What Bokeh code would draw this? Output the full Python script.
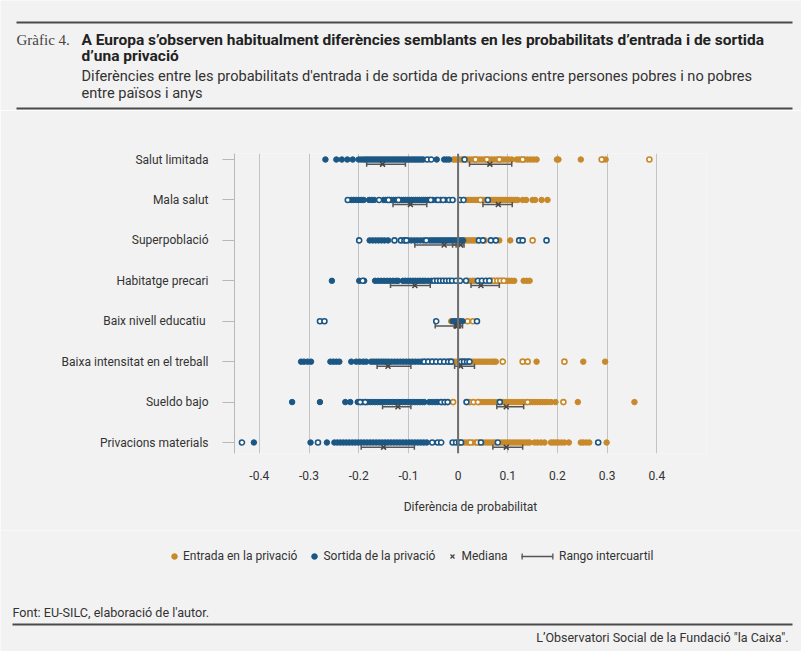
from bokeh.plotting import figure
from bokeh.layouts import column
from bokeh.models import (Range1d, FixedTicker, Label, BoxAnnotation, Span,
                          Legend, LegendItem, ColumnDataSource)
from bokeh.embed import file_html
from bokeh.resources import INLINE

# ---------------- data ----------------
categories = ["Salut limitada", "Mala salut", "Superpoblació", "Habitatge precari",
              "Baix nivell educatiu ", "Baixa intensitat en el treball",
              "Sueldo bajo", "Privacions materials"]

x_ticks = [-0.4, -0.3, -0.2, -0.1, 0.0, 0.1, 0.2, 0.3, 0.4]
x_tick_labels = ["-0.4", "-0.3", "-0.2", "-0.1", "0", "0.1", "0.2", "0.3", "0.4"]

# Entrada (orange) significant = filled, ns = hollow ; Sortida (blue) likewise
salut_limitada_entrada = [-0.010, -0.006, -0.002, 0.003, 0.008, 0.018, 0.023, 0.028, 0.033, 0.038,
                          0.043, 0.048, 0.053, 0.058, 0.063, 0.068, 0.073, 0.078, 0.083, 0.087,
                          0.092, 0.097, 0.102, 0.108, 0.118, 0.123, 0.128, 0.134, 0.140, 0.146,
                          0.152, 0.158, 0.199, 0.202, 0.247, 0.291, 0.297]
salut_limitada_entrada_ns = [0.013, 0.035, 0.058, 0.083, 0.130, 0.289, 0.385]
salut_limitada_sortida = [-0.267, -0.245, -0.234, -0.223, -0.212, -0.200, -0.195, -0.190, -0.186,
                          -0.182, -0.178, -0.174, -0.170, -0.166, -0.162, -0.158, -0.154, -0.150,
                          -0.146, -0.142, -0.138, -0.134, -0.130, -0.126, -0.122, -0.118, -0.114,
                          -0.110, -0.106, -0.102, -0.098, -0.094, -0.090, -0.086, -0.082, -0.078,
                          -0.074, -0.070, -0.043, -0.028, -0.023, -0.018]
salut_limitada_sortida_ns = [-0.062, -0.054, 0.013]

mala_salut_entrada = [0.012, 0.016, 0.020, 0.024, 0.028, 0.032, 0.036, 0.040, 0.044, 0.048,
                      0.052, 0.056, 0.064, 0.068, 0.072, 0.076, 0.080, 0.084, 0.088, 0.092,
                      0.096, 0.100, 0.104, 0.108, 0.112, 0.116, 0.120, 0.130, 0.137, 0.150,
                      0.155, 0.168, 0.180]
mala_salut_entrada_ns = [0.045]
mala_salut_sortida = [-0.215, -0.210, -0.205, -0.200, -0.195, -0.190, -0.179, -0.174, -0.169,
                      -0.150, -0.146, -0.142, -0.138, -0.134, -0.130, -0.126, -0.122, -0.118,
                      -0.114, -0.110, -0.106, -0.102, -0.098, -0.094, -0.090, -0.086, -0.082,
                      -0.078, -0.074, -0.070, -0.066, -0.062, -0.058, -0.051, -0.044, -0.035,
                      -0.026]
mala_salut_sortida_ns = [-0.222, -0.159, -0.140, -0.120, -0.055, -0.040, -0.030, -0.018, -0.011,
                         0.004, 0.011, 0.060]

superpoblacio_entrada = [0.012, 0.016, 0.020, 0.024, 0.028, 0.032, 0.036, 0.083, 0.105]
superpoblacio_entrada_ns = [0.053, 0.150]
superpoblacio_sortida = [-0.178, -0.172, -0.166, -0.160, -0.154, -0.148, -0.141, -0.100, -0.094,
                         -0.088, -0.082, -0.076, -0.070, -0.058, -0.054, -0.050, -0.046, -0.042,
                         -0.038, -0.034, -0.030, -0.026, -0.022, -0.018, -0.014, -0.010, -0.006,
                         -0.002, 0.002, 0.006, 0.010]
superpoblacio_sortida_ns = [-0.199, -0.128, -0.115, -0.108, -0.104, -0.064, 0.042, 0.050, 0.066,
                            0.076, 0.123, 0.130, 0.178]

habitatge_entrada = [0.019, 0.024, 0.029, 0.033, 0.068, 0.073, 0.078, 0.083, 0.088, 0.093,
                     0.098, 0.103, 0.108, 0.113, 0.132, 0.138, 0.144]
habitatge_entrada_ns = [0.066, 0.072, 0.079, 0.085, 0.092]
habitatge_sortida = [-0.254, -0.199, -0.189, -0.167, -0.161, -0.155, -0.149, -0.143, -0.137,
                     -0.131, -0.125, -0.121, -0.111, -0.106, -0.101, -0.096, -0.091, -0.086,
                     -0.081, -0.076, -0.071, -0.066, -0.060, -0.054]
habitatge_sortida_ns = [-0.192, -0.048, -0.042, -0.036, -0.030, -0.024, -0.018, -0.012, -0.004,
                        0.004, 0.016, 0.040, 0.048, 0.056, 0.063]

educatiu_entrada = [-0.014]
educatiu_entrada_ns = [0.019, 0.030]
educatiu_sortida = [-0.011, -0.006, -0.001, 0.004, 0.009]
educatiu_sortida_ns = [-0.278, -0.269, -0.044, 0.038]

intensitat_entrada = [-0.011, -0.006, -0.001, 0.004, 0.009, 0.014, 0.028, 0.033, 0.038, 0.043,
                      0.048, 0.053, 0.058, 0.063, 0.068, 0.072, 0.076, 0.158, 0.252, 0.296]
intensitat_entrada_ns = [0.090, 0.130, 0.140, 0.214]
intensitat_sortida = [-0.316, -0.310, -0.303, -0.296, -0.257, -0.251, -0.245, -0.239, -0.215,
                      -0.205, -0.198, -0.191, -0.185, -0.175, -0.170, -0.165, -0.160, -0.155,
                      -0.150, -0.145, -0.140, -0.134, -0.128, -0.122, -0.116, -0.110, -0.104,
                      -0.098, -0.092, -0.086, -0.080, -0.074]
intensitat_sortida_ns = [-0.068, -0.060, -0.052, -0.044, -0.036, -0.028, -0.020, -0.014, 0.006,
                         0.012, 0.018, 0.023]

sueldo_entrada = [0.043, 0.048, 0.053, 0.058, 0.063, 0.068, 0.073, 0.080, 0.087, 0.092, 0.097,
                  0.102, 0.107, 0.112, 0.117, 0.122, 0.127, 0.132, 0.137, 0.145, 0.150, 0.155,
                  0.160, 0.165, 0.170, 0.175, 0.180, 0.187, 0.196, 0.241, 0.355]
sueldo_entrada_ns = [-0.010, 0.023, 0.031, 0.040, 0.140, 0.212]
sueldo_sortida = [-0.334, -0.278, -0.227, -0.217, -0.202, -0.192, -0.182, -0.177, -0.172,
                  -0.167, -0.162, -0.157, -0.152, -0.147, -0.142, -0.137, -0.132, -0.127,
                  -0.122, -0.117, -0.112, -0.107, -0.102, -0.097, -0.092, -0.087, -0.082,
                  -0.077, -0.072, -0.068, -0.058, -0.052, -0.046, -0.041]
sueldo_sortida_ns = [-0.197, -0.187, -0.034, -0.027, -0.021, 0.017, 0.084]

privacions_entrada = [0.008, 0.013, 0.018, 0.023, 0.030, 0.036, 0.043, 0.050, 0.055, 0.060,
                      0.065, 0.070, 0.075, 0.085, 0.090, 0.095, 0.100, 0.105, 0.110, 0.115,
                      0.120, 0.125, 0.130, 0.135, 0.140, 0.144, 0.154, 0.160, 0.167, 0.174,
                      0.187, 0.192, 0.197, 0.202, 0.208, 0.214, 0.223, 0.247, 0.252, 0.258,
                      0.264, 0.299]
privacions_entrada_ns = [0.025, 0.039]
privacions_sortida = [-0.411, -0.297, -0.264, -0.249, -0.243, -0.237, -0.231, -0.225, -0.219,
                      -0.213, -0.207, -0.201, -0.195, -0.189, -0.183, -0.177, -0.171, -0.165,
                      -0.159, -0.153, -0.147, -0.141, -0.135, -0.129, -0.123, -0.117, -0.111,
                      -0.105, -0.099, -0.093, -0.087, -0.081, -0.075, -0.069, -0.063]
privacions_sortida_ns = [-0.435, -0.282, -0.052, -0.041, -0.034, -0.011, -0.004, 0.002, 0.006,
                         0.046, 0.080, 0.282]

# medians and interquartile ranges (one value per category, top to bottom)
entrada_mediana = [0.064, 0.081, 0.005, 0.046, -0.001, 0.005, 0.097, 0.097]
entrada_q1 = [0.023, 0.050, -0.011, 0.026, -0.007, -0.007, 0.078, 0.070]
entrada_q3 = [0.108, 0.109, 0.012, 0.083, 0.009, 0.033, 0.132, 0.130]
sortida_mediana = [-0.152, -0.096, -0.028, -0.087, -0.004, -0.141, -0.121, -0.150]
sortida_q1 = [-0.184, -0.131, -0.087, -0.136, -0.046, -0.163, -0.152, -0.195]
sortida_q3 = [-0.106, -0.063, -0.004, -0.056, 0.005, -0.095, -0.095, -0.088]

entrada_rows = [salut_limitada_entrada, mala_salut_entrada, superpoblacio_entrada, habitatge_entrada,
                educatiu_entrada, intensitat_entrada, sueldo_entrada, privacions_entrada]
entrada_ns_rows = [salut_limitada_entrada_ns, mala_salut_entrada_ns, superpoblacio_entrada_ns,
                   habitatge_entrada_ns, educatiu_entrada_ns, intensitat_entrada_ns,
                   sueldo_entrada_ns, privacions_entrada_ns]
sortida_rows = [salut_limitada_sortida, mala_salut_sortida, superpoblacio_sortida, habitatge_sortida,
                educatiu_sortida, intensitat_sortida, sueldo_sortida, privacions_sortida]
sortida_ns_rows = [salut_limitada_sortida_ns, mala_salut_sortida_ns, superpoblacio_sortida_ns,
                   habitatge_sortida_ns, educatiu_sortida_ns, intensitat_sortida_ns,
                   sueldo_sortida_ns, privacions_sortida_ns]

ORANGE = "#c8892b"
BLUE = "#1b5784"
BG = "#f2f2f2"
TXT = "#333333"
RULE = "#4a4a4a"
FONT = "Roboto"
W = 801
NAN = float("nan")


def flatten(rows):
    xs, ys = [], []
    for i, vals in enumerate(rows):
        xs.extend(vals)
        ys.extend([i] * len(vals))
    return ColumnDataSource(dict(x=xs, y=ys))


def blank_fig(height, y_top, y_bottom):
    f = figure(width=W, height=height, output_backend="svg", toolbar_location=None,
               x_range=Range1d(0, W), y_range=Range1d(y_bottom, y_top),
               x_axis_type=None, y_axis_type=None, min_border=0, frame_align=False)
    f.background_fill_color = BG
    f.border_fill_color = BG
    f.outline_line_color = None
    return f


def lab(f, text, x, y, size, font=FONT, style="normal", color=TXT, align="left"):
    f.add_layout(Label(x=x, y=y, text=text, text_font=font, text_font_size=size,
                       text_font_style=style, text_color=color, text_align=align,
                       text_baseline="middle"))


def box(f, x0, x1, y0, y1, color=RULE):
    f.add_layout(BoxAnnotation(left=x0, right=x1, top=y0, bottom=y1, fill_color=color,
                               fill_alpha=1, line_color=None))


# ---------------- header ----------------
head = blank_fig(110, 0, 110)
box(head, 16, 792, 21, 23)
box(head, 16, 792, 107, 109)
lab(head, "Gràfic 4.", 16, 39, "15px", font="Liberation Serif", color="#444444")
lab(head, "A Europa s’observen habitualment diferències semblants en les probabilitats d’entrada i de sortida",
    81, 39, "15.5px", style="bold", color="#222222")
lab(head, "d’una privació", 81, 55, "15.5px", style="bold", color="#222222")
lab(head, "Diferències entre les probabilitats d'entrada i  de sortida de privacions entre persones pobres i no pobres",
    81, 75, "14.6px")
lab(head, "entre països i anys", 81, 92, "14.6px")

# ---------------- main chart ----------------
p = figure(width=W, height=420, output_backend="svg", toolbar_location=None,
           x_range=Range1d(-0.45, 0.5), y_range=Range1d(7.272, -0.149), frame_align=False,
           min_border_left=234, min_border_right=95, min_border_top=43, min_border_bottom=77)
p.background_fill_color = BG
p.border_fill_color = BG
p.outline_line_color = None

p.xaxis.ticker = FixedTicker(ticks=x_ticks)
p.xaxis.major_label_overrides = {t: l for t, l in zip(x_ticks, x_tick_labels)}
p.xaxis.axis_line_color = None
p.xaxis.major_tick_line_color = None
p.xaxis.minor_tick_line_color = None
p.xaxis.major_label_standoff = 11
p.xaxis.axis_label = "Diferència de probabilitat"
p.xaxis.axis_label_standoff = 17
p.xaxis.axis_label_text_font_style = "normal"
p.xaxis.axis_label_text_font = FONT
p.xaxis.axis_label_text_font_size = "12px"
p.xaxis.axis_label_text_color = TXT
p.xaxis.major_label_text_font = FONT
p.xaxis.major_label_text_font_size = "12px"
p.xaxis.major_label_text_color = TXT

p.yaxis.ticker = FixedTicker(ticks=list(range(len(categories))))
p.yaxis.major_label_overrides = {i: c for i, c in enumerate(categories)}
p.yaxis.axis_line_color = "#b8b8b8"
p.yaxis.major_tick_line_color = "#b8b8b8"
p.yaxis.minor_tick_line_color = None
p.yaxis.major_tick_out = 12
p.yaxis.major_tick_in = 0
p.yaxis.major_label_standoff = 14
p.yaxis.major_label_text_font = FONT
p.yaxis.major_label_text_font_size = "12px"
p.yaxis.major_label_text_color = TXT

p.xgrid.ticker = FixedTicker(ticks=x_ticks)
p.xgrid.grid_line_color = "#c4c4c4"
p.xgrid.grid_line_width = 1
p.ygrid.grid_line_color = None

p.scatter("x", "y", source=flatten(entrada_rows), size=5.5, fill_color=ORANGE,
          line_color=ORANGE, line_width=1)
p.scatter("x", "y", source=flatten(entrada_ns_rows), size=5, fill_color="#ffffff",
          line_color=ORANGE, line_width=1.6)
p.scatter("x", "y", source=flatten(sortida_rows), size=5.5, fill_color=BLUE,
          line_color=BLUE, line_width=1)
p.scatter("x", "y", source=flatten(sortida_ns_rows), size=5, fill_color="#ffffff",
          line_color=BLUE, line_width=1.6)

off = 0.115
cap = 0.065
ys_w = [i + off for i in range(len(categories))]
iqr = ColumnDataSource(dict(
    q1=entrada_q1 + sortida_q1, q3=entrada_q3 + sortida_q3,
    med=entrada_mediana + sortida_mediana, y=ys_w + ys_w,
    ylo=[y - cap for y in ys_w + ys_w], yhi=[y + cap for y in ys_w + ys_w]))
WCOL = "#555555"
p.segment(x0="q1", y0="y", x1="q3", y1="y", source=iqr, line_color=WCOL, line_width=1.5)
p.segment(x0="q1", y0="ylo", x1="q1", y1="yhi", source=iqr, line_color=WCOL, line_width=1.5)
p.segment(x0="q3", y0="ylo", x1="q3", y1="yhi", source=iqr, line_color=WCOL, line_width=1.5)
p.scatter(x="med", y="y", source=iqr, marker="x", size=7, line_color="#444444", line_width=1.5)

p.add_layout(Span(location=0, dimension="height", line_color="#6e6e6e", line_width=2))

# ---------------- footer (legend + source) ----------------
foot = blank_fig(121, 530, 651)
# legend-only renderers (no visible data)
lg_ent = foot.scatter(x=[NAN], y=[NAN], size=5.5, fill_color=ORANGE, line_color=ORANGE)
lg_sor = foot.scatter(x=[NAN], y=[NAN], size=5.5, fill_color=BLUE, line_color=BLUE)
lg_med = foot.scatter(x=[NAN], y=[NAN], marker="x", line_color="#444444", line_width=1.3)
lg_iqr = foot.segment(x0=[NAN], y0=[NAN], x1=[NAN], y1=[NAN], line_color=WCOL, line_width=1.3)

leg_common = dict(orientation="horizontal", background_fill_alpha=0, border_line_color=None,
                  padding=0, margin=0, label_text_font=FONT, label_text_font_size="12px",
                  label_text_color=TXT, glyph_height=14, label_height=14)
leg1 = Legend(items=[LegendItem(label="Entrada en la privació", renderers=[lg_ent]),
                     LegendItem(label="Sortida de la privació", renderers=[lg_sor]),
                     LegendItem(label="Mediana", renderers=[lg_med])],
              location=(167, 88), glyph_width=14, label_standoff=2, spacing=10, **leg_common)
leg2 = Legend(items=[LegendItem(label="Rango intercuartil", renderers=[lg_iqr])],
              location=(521, 88), glyph_width=32, label_standoff=6, **leg_common)
foot.add_layout(leg1)
foot.add_layout(leg2)
# end caps of the interquartile-range legend icon
box(foot, 521, 522.3, 553, 559, color=WCOL)
box(foot, 551.7, 553, 553, 559, color=WCOL)

lab(foot, "Font: EU-SILC, elaboració de l'autor.", 12, 612, "12.6px")
box(foot, 12, 792, 623, 625)
lab(foot, "L’Observatori Social de la Fundació \"la Caixa\".", 788, 637, "12.5px", align="right")

layout = column(head, p, foot, spacing=0)
open("out.html", "w").write(file_html(layout, INLINE))
